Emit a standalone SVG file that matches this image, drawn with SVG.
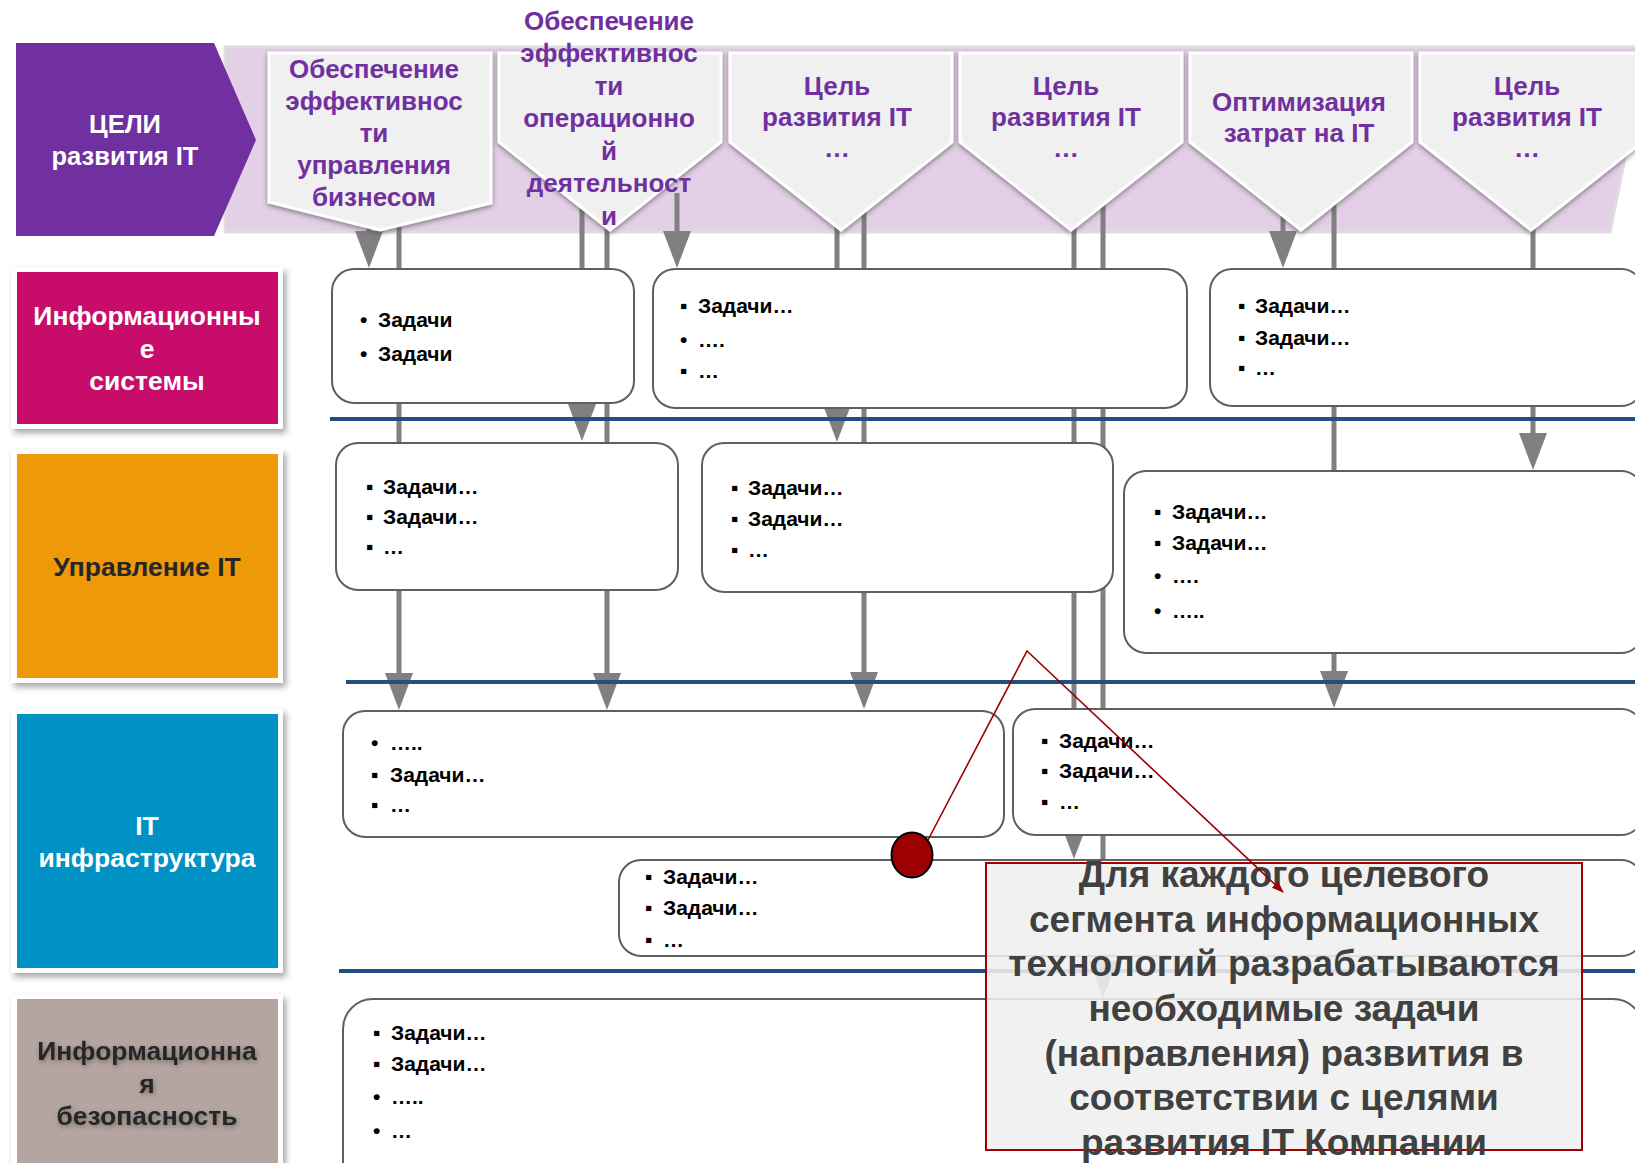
<svg xmlns="http://www.w3.org/2000/svg" width="1635" height="1163" viewBox="0 0 1635 1163">
<style>
.pt{font-family:'Liberation Sans',Arial,sans-serif;font-weight:bold;font-size:26px;fill:#7030a0;text-anchor:middle}
.cat{font-family:'Liberation Sans',Arial,sans-serif;font-weight:bold;font-size:26.5px;text-anchor:middle}
.hd{font-family:'Liberation Sans',Arial,sans-serif;font-weight:bold;font-size:25.5px;text-anchor:middle;fill:#fff}
.task{font-family:'Liberation Sans',Arial,sans-serif;font-weight:bold;font-size:21px;fill:#000}
.box{fill:#fff;stroke:#5f5f5f;stroke-width:2}
.pent{fill:#f0f0f0;stroke:#fff;stroke-width:3;filter:url(#psh)}
.sep{stroke:#24507f;stroke-width:4}
.conn{stroke:#808080;stroke-width:5;fill:none;marker-end:url(#ah)}
.frame{fill:#fff;filter:url(#fsh)}
.co{font-family:'Liberation Sans',Arial,sans-serif;font-weight:bold;font-size:37px;fill:#404040;text-anchor:middle}
</style>
<defs>
<marker id="ah" markerUnits="userSpaceOnUse" markerWidth="38" markerHeight="28" refX="17" refY="14" orient="auto">
<path d="M0,0 L37,14 L0,28 z" fill="#808080"/>
</marker>
<marker id="rah" markerUnits="userSpaceOnUse" markerWidth="12" markerHeight="10" refX="11" refY="4.5" orient="auto">
<path d="M0,0 L12,4.5 L0,9 z" fill="#9a0000"/>
</marker>
<filter id="psh" x="-10%" y="-10%" width="120%" height="130%">
<feDropShadow dx="0" dy="2" stdDeviation="2.5" flood-color="#404040" flood-opacity="0.6"/>
</filter>
<filter id="fsh" x="-10%" y="-10%" width="125%" height="125%">
<feDropShadow dx="3" dy="4" stdDeviation="3" flood-color="#000" flood-opacity="0.35"/>
</filter>
<filter id="tsh" x="-10%" y="-30%" width="120%" height="160%">
<feGaussianBlur in="SourceAlpha" stdDeviation="2.5"/>
<feOffset dx="1" dy="2" result="b"/>
<feFlood flood-color="#000" flood-opacity="0.35"/>
<feComposite in2="b" operator="in"/>
<feMerge><feMergeNode/><feMergeNode in="SourceGraphic"/></feMerge>
</filter>
</defs>
<rect width="1635" height="1163" fill="#fff"/>

<g id="band">
<polygon points="225,47 1648,47 1610,232 225,232" fill="#e3cfe6" stroke="#dedede" stroke-width="3"/>
</g>

<g id="goals-header">
<polygon points="16,43 214,43 256,140 214,236 16,236" fill="#7030a0"/>
<text class="hd" x="125" y="133">ЦЕЛИ</text>
<text class="hd" x="125" y="165">развития IT</text>
</g>

<g id="connectors">
<line class="conn" x1="369" y1="200" x2="369" y2="248"/>
<line class="conn" x1="399" y1="200" x2="399" y2="690"/>
<line class="conn" x1="582" y1="190" x2="582" y2="421"/>
<line class="conn" x1="607" y1="190" x2="607" y2="690"/>
<line class="conn" x1="677" y1="193" x2="677" y2="248"/>
<line class="conn" x1="837" y1="190" x2="837" y2="422"/>
<line class="conn" x1="864" y1="190" x2="864" y2="689"/>
<line class="conn" x1="1074" y1="190" x2="1074" y2="839"/>
<line class="conn" x1="1103" y1="190" x2="1103" y2="978"/>
<line class="conn" x1="1283" y1="190" x2="1283" y2="248"/>
<line class="conn" x1="1334" y1="190" x2="1334" y2="688"/>
<line class="conn" x1="1533" y1="190" x2="1533" y2="450"/>
</g>

<g id="goal1">
<polygon class="pent" points="269,53 491,53 491,203 380,230 269,202"/>
<text class="pt" x="374" y="78">Обеспечение</text>
<text class="pt" x="374" y="110">эффективнос</text>
<text class="pt" x="374" y="142">ти</text>
<text class="pt" x="374" y="174">управления</text>
<text class="pt" x="374" y="206">бизнесом</text>
</g>
<g id="goal2">
<polygon class="pent" points="499,53 721,53 721,142 610,230 499,142"/>
<text class="pt" x="609" y="30">Обеспечение</text>
<text class="pt" x="609" y="62">эффективнос</text>
<text class="pt" x="609" y="95">ти</text>
<text class="pt" x="609" y="127">операционно</text>
<text class="pt" x="609" y="160">й</text>
<text class="pt" x="609" y="192">деятельност</text>
<text class="pt" x="609" y="225">и</text>
</g>
<g id="goal3">
<polygon class="pent" points="730,53 952,53 952,142 841,230 730,142"/>
<text class="pt" x="837" y="95">Цель</text>
<text class="pt" x="837" y="126">развития IT</text>
<text class="pt" x="837" y="157">…</text>
</g>
<g id="goal4">
<polygon class="pent" points="960,53 1182,53 1182,142 1071,230 960,142"/>
<text class="pt" x="1066" y="95">Цель</text>
<text class="pt" x="1066" y="126">развития IT</text>
<text class="pt" x="1066" y="157">…</text>
</g>
<g id="goal5">
<polygon class="pent" points="1190,53 1412,53 1412,142 1301,230 1190,142"/>
<text class="pt" x="1299" y="111">Оптимизация</text>
<text class="pt" x="1299" y="142">затрат на IT</text>
</g>
<g id="goal6">
<polygon class="pent" points="1420,53 1642,53 1642,142 1531,230 1420,142"/>
<text class="pt" x="1527" y="95">Цель</text>
<text class="pt" x="1527" y="126">развития IT</text>
<text class="pt" x="1527" y="157">…</text>
</g>

<g id="separators">
<line class="sep" x1="330" y1="419" x2="1635" y2="419"/>
<line class="sep" x1="346" y1="682" x2="1635" y2="682"/>
<line class="sep" x1="339" y1="971" x2="1635" y2="971"/>
</g>

<g id="cat-is">
<rect class="frame" x="11" y="267" width="272" height="162"/>
<rect x="17" y="272" width="261" height="152" fill="#c70d69"/>
<text class="cat" x="147" y="325" fill="#fff">Информационны</text>
<text class="cat" x="147" y="358" fill="#fff">е</text>
<text class="cat" x="147" y="390" fill="#fff">системы</text>
</g>
<g id="cat-itm">
<rect class="frame" x="11" y="449" width="272" height="234"/>
<rect x="17" y="454" width="261" height="224" fill="#ee9a08"/>
<text class="cat" x="147" y="576" fill="#262626">Управление IT</text>
</g>
<g id="cat-infra">
<rect class="frame" x="11" y="709" width="272" height="264"/>
<rect x="17" y="714" width="261" height="254" fill="#0091c5"/>
<text class="cat" x="147" y="835" fill="#fff">IT</text>
<text class="cat" x="147" y="867" fill="#fff">инфраструктура</text>
</g>
<g id="cat-sec">
<rect class="frame" x="11" y="994" width="272" height="200"/>
<rect x="17" y="999" width="261" height="190" fill="#b5a5a0"/>
<g filter="url(#tsh)">
<text class="cat" x="147" y="1060" fill="#262626">Информационна</text>
<text class="cat" x="147" y="1093" fill="#262626">я</text>
<text class="cat" x="147" y="1125" fill="#262626">безопасность</text>
</g>
</g>

<g id="box-a">
<rect class="box" x="332" y="269" width="302" height="134" rx="22"/>
<text class="task" x="360" y="327">•</text><text class="task" x="378" y="327">Задачи</text>
<text class="task" x="360" y="361">•</text><text class="task" x="378" y="361">Задачи</text>
</g>
<g id="box-b">
<rect class="box" x="653" y="269" width="534" height="139" rx="22"/>
<text class="task" x="680" y="313">▪</text><text class="task" x="698" y="313">Задачи…</text>
<text class="task" x="680" y="347">•</text><text class="task" x="698" y="347">….</text>
<text class="task" x="680" y="378">▪</text><text class="task" x="698" y="378">…</text>
</g>
<g id="box-c">
<rect class="box" x="1210" y="269" width="433" height="137" rx="22"/>
<text class="task" x="1238" y="313">▪</text><text class="task" x="1255" y="313">Задачи…</text>
<text class="task" x="1238" y="345">▪</text><text class="task" x="1255" y="345">Задачи…</text>
<text class="task" x="1238" y="375">▪</text><text class="task" x="1255" y="375">…</text>
</g>
<g id="box-d">
<rect class="box" x="336" y="443" width="342" height="147" rx="22"/>
<text class="task" x="366" y="494">▪</text><text class="task" x="383" y="494">Задачи…</text>
<text class="task" x="366" y="524">▪</text><text class="task" x="383" y="524">Задачи…</text>
<text class="task" x="366" y="554">▪</text><text class="task" x="383" y="554">…</text>
</g>
<g id="box-e">
<rect class="box" x="702" y="443" width="411" height="149" rx="22"/>
<text class="task" x="731" y="495">▪</text><text class="task" x="748" y="495">Задачи…</text>
<text class="task" x="731" y="526">▪</text><text class="task" x="748" y="526">Задачи…</text>
<text class="task" x="731" y="557">▪</text><text class="task" x="748" y="557">…</text>
</g>
<g id="box-f">
<rect class="box" x="1124" y="471" width="519" height="182" rx="22"/>
<text class="task" x="1154" y="519">▪</text><text class="task" x="1172" y="519">Задачи…</text>
<text class="task" x="1154" y="550">▪</text><text class="task" x="1172" y="550">Задачи…</text>
<text class="task" x="1154" y="583">•</text><text class="task" x="1172" y="583">….</text>
<text class="task" x="1154" y="618">•</text><text class="task" x="1172" y="618">…..</text>
</g>
<g id="box-g">
<rect class="box" x="343" y="711" width="661" height="126" rx="22"/>
<text class="task" x="371" y="750">•</text><text class="task" x="390" y="750">…..</text>
<text class="task" x="371" y="782">▪</text><text class="task" x="390" y="782">Задачи…</text>
<text class="task" x="371" y="812">▪</text><text class="task" x="390" y="812">…</text>
</g>
<g id="box-h">
<rect class="box" x="1013" y="709" width="630" height="126" rx="22"/>
<text class="task" x="1041" y="748">▪</text><text class="task" x="1059" y="748">Задачи…</text>
<text class="task" x="1041" y="778">▪</text><text class="task" x="1059" y="778">Задачи…</text>
<text class="task" x="1041" y="809">▪</text><text class="task" x="1059" y="809">…</text>
</g>
<g id="box-i">
<rect class="box" x="619" y="860" width="1024" height="96" rx="22"/>
<text class="task" x="645" y="884">▪</text><text class="task" x="663" y="884">Задачи…</text>
<text class="task" x="645" y="915">▪</text><text class="task" x="663" y="915">Задачи…</text>
<text class="task" x="645" y="947">▪</text><text class="task" x="663" y="947">…</text>
</g>
<g id="box-j">
<rect class="box" x="343" y="999" width="1300" height="200" rx="30"/>
<text class="task" x="373" y="1040">▪</text><text class="task" x="391" y="1040">Задачи…</text>
<text class="task" x="373" y="1071">▪</text><text class="task" x="391" y="1071">Задачи…</text>
<text class="task" x="373" y="1104">•</text><text class="task" x="391" y="1104">…..</text>
<text class="task" x="373" y="1138">•</text><text class="task" x="391" y="1138">…</text>
</g>

<g id="callout">
<rect x="986" y="863" width="596" height="287" fill="#efefef" fill-opacity="0.88" stroke="#a00000" stroke-width="2"/>
<text class="co" x="1284" y="887">Для каждого целевого</text>
<text class="co" x="1284" y="932">сегмента информационных</text>
<text class="co" x="1284" y="976">технологий разрабатываются</text>
<text class="co" x="1284" y="1021">необходимые задачи</text>
<text class="co" x="1284" y="1066">(направления) развития в</text>
<text class="co" x="1284" y="1110">соответствии с целями</text>
<text class="co" x="1284" y="1155">развития IT Компании</text>
<polyline points="928,840 1027,651 1283,892" fill="none" stroke="#9a0000" stroke-width="1.6" marker-end="url(#rah)"/>
<ellipse cx="912" cy="855" rx="20.5" ry="22.5" fill="#9c0000" stroke="#000" stroke-width="2"/>
</g>
</svg>
